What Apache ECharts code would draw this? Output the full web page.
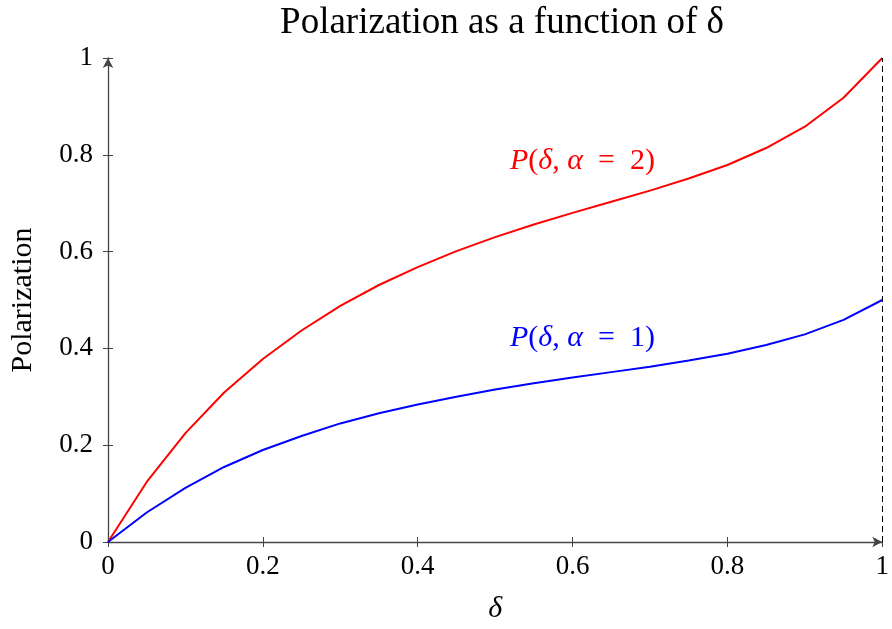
<!DOCTYPE html>
<html>
<head>
<meta charset="utf-8">
<script src="https://cdn.jsdelivr.net/npm/echarts@6/dist/echarts.min.js"></script>
<style>
  html, body { margin: 0; padding: 0; background: #fff; }
  #chart { width: 892px; height: 629px; }
</style>
</head>
<body>
<div id="chart"></div>
<script>
  // data
  const deltaVals = [0, 0.05, 0.1, 0.15, 0.2, 0.25, 0.3, 0.35, 0.4, 0.45, 0.5,
                     0.55, 0.6, 0.65, 0.7, 0.75, 0.8, 0.85, 0.9, 0.95, 1];
  const alpha2Vals = [0, 0.124, 0.225, 0.309, 0.378, 0.437, 0.488, 0.531, 0.568, 0.601, 0.63,
                      0.656, 0.68, 0.703, 0.726, 0.751, 0.779, 0.814, 0.858, 0.918, 1];
  const alpha1Vals = [0, 0.061, 0.112, 0.155, 0.19, 0.219, 0.245, 0.266, 0.284, 0.3, 0.315,
                      0.328, 0.34, 0.351, 0.362, 0.375, 0.389, 0.407, 0.429, 0.459, 0.5];

  const serif = '"Liberation Serif", "DejaVu Serif", serif';
  const axisColor = '#444';

  let pairs = (ys) => deltaVals.map((x, i) => [x, ys[i]]);

  // P(δ, α = n) with italic math letters and wider spacing round "="
  let mathLabel = (num, color) => ({
    text: '{i|P}(' + '{i|δ}, {i|α}\u2002=\u2002' + num + ')',
    font: '30px ' + serif,
    fill: color,
    rich: {
      i: { fontStyle: 'italic', fontSize: 30, fontFamily: serif, color: color }
    }
  });

  let chart = echarts.init(document.getElementById('chart'));
  chart.setOption({
    animation: false,
    title: {
      text: 'Polarization as a function of δ',
      left: 497,
      top: 0,
      textAlign: 'center',
      textStyle: { fontFamily: serif, fontSize: 37, fontWeight: 'normal', color: '#000' }
    },
    grid: { left: 107, right: 5, top: 58, bottom: 85 },
    xAxis: [{
      type: 'value',
      min: 0, max: 1, interval: 0.2,
      name: 'δ',
      nameLocation: 'middle',
      nameGap: 52,
      nameTextStyle: { fontFamily: serif, fontSize: 30, fontStyle: 'italic', color: '#000' },
      axisLine: { lineStyle: { color: axisColor, width: 1.3 }, symbol: ['none', 'arrow'], symbolSize: [8, 10] },
      axisTick: { length: 5, lineStyle: { color: axisColor } },
      axisLabel: { fontFamily: serif, fontSize: 27, color: '#000', margin: 11 },
      splitLine: { show: false }
    }, {
      // inner half of the crossing ticks
      type: 'value', position: 'bottom',
      min: 0, max: 1, interval: 0.2,
      axisLine: { show: false },
      axisTick: { inside: true, length: 5, lineStyle: { color: axisColor } },
      axisLabel: { show: false },
      splitLine: { show: false }
    }],
    yAxis: [{
      type: 'value',
      min: 0, max: 1, interval: 0.2,
      name: 'Polarization',
      nameLocation: 'middle',
      nameGap: 70,
      nameTextStyle: { fontFamily: serif, fontSize: 30, color: '#000' },
      axisLine: { lineStyle: { color: axisColor, width: 1.3 }, symbol: ['none', 'arrow'], symbolSize: [8, 10] },
      axisTick: { length: 5, lineStyle: { color: axisColor } },
      axisLabel: { fontFamily: serif, fontSize: 27, color: '#000', margin: 15 },
      splitLine: { show: false }
    }, {
      type: 'value', position: 'left',
      min: 0, max: 1, interval: 0.2,
      axisLine: { show: false },
      axisTick: { inside: true, length: 5, lineStyle: { color: axisColor } },
      axisLabel: { show: false },
      splitLine: { show: false }
    }],
    series: [{
      name: 'alpha=2',
      type: 'line',
      data: pairs(alpha2Vals),
      showSymbol: false,
      lineStyle: { color: '#ff0000', width: 2 },
      itemStyle: { color: '#ff0000' },
      markLine: {
        silent: true,
        symbol: ['none', 'none'],
        label: { show: false },
        lineStyle: { color: '#000', type: [6, 4], width: 1 },
        data: [{ xAxis: 1 }]
      }
    }, {
      name: 'alpha=1',
      type: 'line',
      data: pairs(alpha1Vals),
      showSymbol: false,
      lineStyle: { color: '#0000ff', width: 2 },
      itemStyle: { color: '#0000ff' }
    }],
    graphic: [
      { type: 'text', left: 510, top: 146, style: mathLabel(2, '#ff0000') },
      { type: 'text', left: 510, top: 323, style: mathLabel(1, '#0000ff') }
    ]
  });
</script>
</body>
</html>
